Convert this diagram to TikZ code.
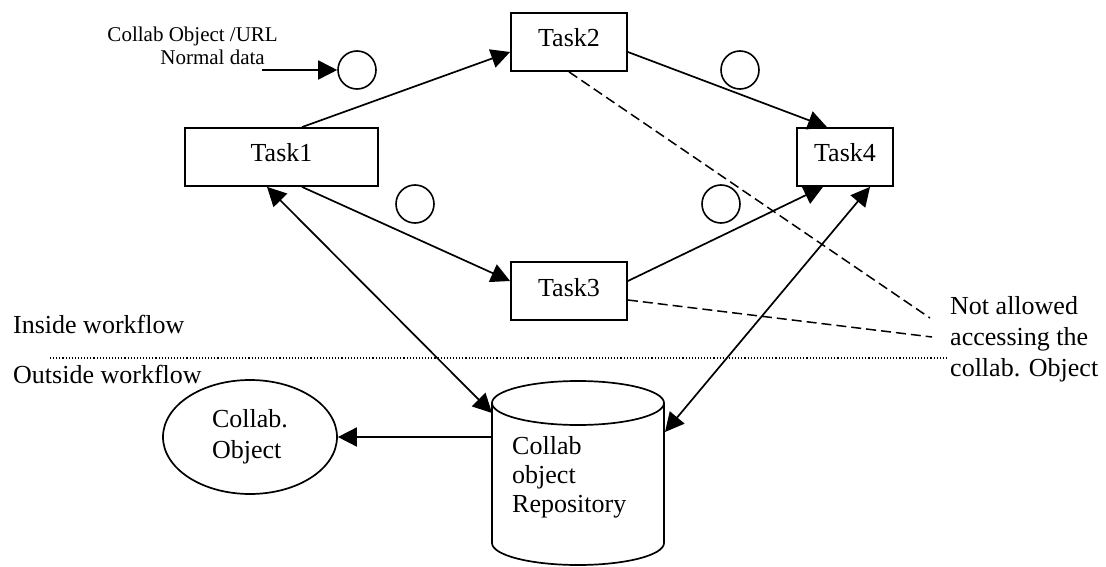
\documentclass[tikz,border=0pt]{standalone}
\usepackage{fontspec}
\setmainfont{Liberation Serif}
\usetikzlibrary{arrows.meta,shapes.geometric,calc}

\tikzset{
  big/.style={font=\fontsize{26}{31}\selectfont},
  small/.style={font=\fontsize{21}{23}\selectfont},
  task/.style={draw, line width=1.8pt, rectangle, inner sep=0pt,
               minimum height=58pt, text height=16pt, text depth=6pt, big},
  token/.style={draw, line width=1.6pt, circle, inner sep=0pt, minimum size=38pt},
  arr/.style={line width=1.7pt, ->},
  biarr/.style={line width=1.7pt, <->},
  forbid/.style={line width=1.5pt, dash pattern=on 10pt off 5pt},
  border/.style={line width=1.1pt, dotted}
}

\begin{document}
\begin{tikzpicture}[x=1pt,y=-1pt, >={Triangle[length=19pt,width=19pt]}]
\useasboundingbox (0,0) rectangle (1106,567);

% workflow tasks
\node[task, minimum width=193pt] (t1) at (281.5,157) {Task1};
\node[task, minimum width=116pt] (t2) at (569,42) {Task2};
\node[task, minimum width=116pt] (t3) at (569,291) {Task3};
\node[task, minimum width=96pt]  (t4) at (845,157) {Task4};

% data tokens
\node[token] (c1) at (357,70) {};
\node[token] (c2) at (740,70) {};
\node[token] (c3) at (721,204) {};
\node[token] (c4) at (415,204) {};

% input labels and arrow
\node[small, anchor=base east, inner sep=0pt] (lurl) at (278,42) {Collab Object /URL};
\node[small, anchor=base east, inner sep=0pt] (lnorm) at (265,65) {Normal data};
\coordinate (in) at (262,70);
\draw[arr] (in) -- (c1.west);

% control flow between tasks
\draw[arr] ($(t1.north)+(20.5,0)$) -- ($(t2.west)+(0,10)$);
\draw[arr] ($(t2.east)+(0,10)$) -- ($(t4.north)+(-18,0)$);
\draw[arr] ($(t1.south)+(20.5,0)$) -- ($(t3.west)+(0,-10)$);
\draw[arr] ($(t3.east)+(0,-10)$) -- ($(t4.south)+(-22,0)$);

% repository cylinder
\draw[line width=1.7pt] (492,403) -- (492,543) arc (180:0:86 and 22) -- (664,403);
\draw[line width=1.7pt] (578,403) ellipse (86 and 22);
\node[big, anchor=base west, align=left, inner sep=0pt] (repo) at (512,512)
  {Collab\\[-2pt]object\\[-2pt]Repository};
\coordinate (cylTL) at (492,413);
\coordinate (cylR)  at (665,432);
\coordinate (cylL)  at (492,437);

% collaboration object
\node[draw, ellipse, line width=1.7pt, inner sep=0pt, minimum width=174pt,
      minimum height=114pt, big, align=left] (obj) at (250,437)
  {Collab.\\Object};

% repository access
\draw[biarr] ($(t1.south)+(-14.5,0)$) -- (cylTL);
\draw[biarr] ($(t4.south)+(25,0)$) -- (cylR);
\draw[arr] (cylL) -- (obj.east);

% forbidden accesses
\coordinate (f1) at (930,318);
\coordinate (f2) at (932,337);
\draw[forbid] (t2.south) -- (f1);
\draw[forbid] ($(t3.east)+(0,9)$) -- (f2);
\node[big, anchor=base west, inner sep=0pt] (n1) at (950,314) {Not allowed};
\node[big, anchor=base west, inner sep=0pt] (n2) at (950,345) {accessing the};
\node[big, anchor=base west, inner sep=0pt] (n3) at (950,376) {collab. Object};

% workflow boundary
\coordinate (b1) at (50,358);
\coordinate (b2) at (948,358);
\draw[border] (b1) -- (b2);
\node[big, anchor=base west, inner sep=0pt] (inside) at (13,333) {Inside workflow};
\node[big, anchor=base west, inner sep=0pt] (outside) at (13,383) {Outside workflow};
\end{tikzpicture}
\end{document}
